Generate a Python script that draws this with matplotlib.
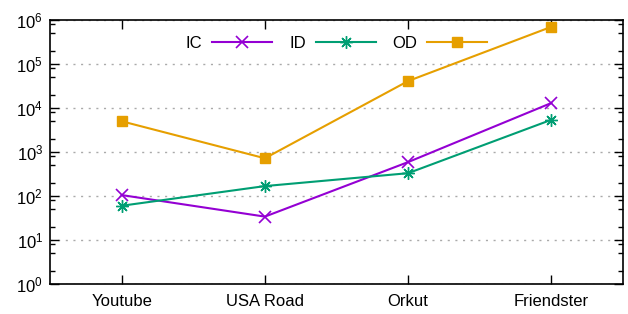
import matplotlib
matplotlib.use('Agg')
import matplotlib.pyplot as plt
from matplotlib.ticker import LogLocator, NullFormatter

plt.rcParams.update({'font.family': ['Liberation Sans', 'DejaVu Sans'],
                     'font.size': 12, 'mathtext.default': 'regular'})

datasets = ['Youtube', 'USA Road', 'Orkut', 'Friendster']
ic = [105, 34, 590, 13000]
id_ = [60, 168, 330, 5400]
od = [5000, 720, 41000, 700000]
yticks = [1, 10, 100, 1000, 1e4, 1e5, 1e6]
ylabels = ['$10^{%d}$' % i for i in range(7)]

fig = plt.figure(figsize=(6.28, 3.14), dpi=100)
ax = fig.add_axes([50/628, 30/314, 573/628, 264/314])

x = range(len(datasets))
ax.plot(x, ic, color='#9400d3', lw=1.5, marker='x', ms=8, mew=1.2, label='IC')
ax.plot(x, id_, color='#009e73', lw=1.5, marker=(8, 2, 0), ms=9, mew=1.0, label='ID')
ax.plot(x, od, color='#e69f00', lw=1.5, marker='s', ms=7, label='OD')

ax.set_yscale('log')
ax.set_ylim(1, 1e6)
ax.set_xlim(-0.5, 3.5)
ax.set_xticks(list(x))
ax.set_xticklabels(datasets)
ax.set_yticks(yticks)
ax.set_yticklabels(ylabels)
ax.yaxis.set_minor_locator(LogLocator(base=10, subs=(2, 5, 8), numticks=10))
ax.yaxis.set_minor_formatter(NullFormatter())

ax.tick_params(axis='both', which='major', direction='in', length=6.5, width=1,
               top=True, right=True, pad=5)
ax.tick_params(axis='y', which='minor', direction='in', length=3.5, width=1,
               right=True)
ax.tick_params(axis='x', which='major', pad=7)
for s in ax.spines.values():
    s.set_linewidth(1.2)

ax.grid(axis='y', which='major', linestyle=(0, (1.5, 4)), color='#aaaaaa', lw=1)
ax.set_axisbelow(True)

ax.legend(loc='upper center', bbox_to_anchor=(0.5, 0.995), ncol=3, frameon=False,
          markerfirst=False, handlelength=3.6, columnspacing=1.0, handletextpad=0.6,
          fontsize=12)

fig.savefig('out.png', dpi=100)
